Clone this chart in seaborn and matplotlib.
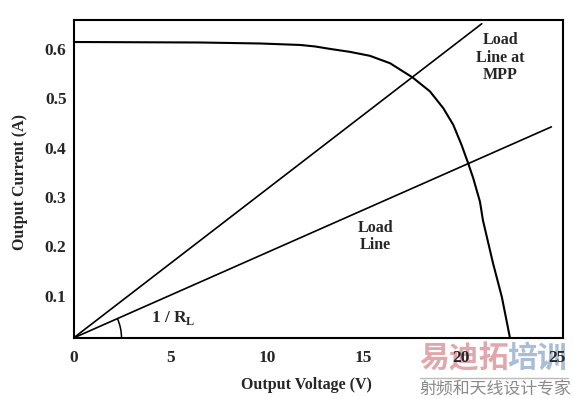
import numpy as np
import pandas as pd
import matplotlib
matplotlib.use("Agg")
import matplotlib.pyplot as plt
import matplotlib.transforms as mtransforms
from matplotlib.patches import Arc
import seaborn as sns

# I-V curve of the panel
voltage = [0.0, 6.54, 9.64, 11.71, 12.48, 13.26, 14.29, 15.32, 16.36, 17.53,
           18.42, 19.11, 19.63, 20.06, 20.40, 20.66, 21.01, 21.16, 21.68,
           22.14, 22.56]
current = [0.600, 0.599, 0.597, 0.594, 0.591, 0.586, 0.580, 0.572, 0.557, 0.528,
           0.500, 0.466, 0.432, 0.391, 0.354, 0.324, 0.276, 0.239, 0.152,
           0.083, 0.0]

# load lines (start at origin)
mpp_line_v = [0.0, 21.1]
mpp_line_i = [0.0, 0.637]
load_line_v = [0.0, 24.7]
load_line_i = [0.0, 0.428]

x_ticks = [0, 5, 10, 15, 20, 25]
y_ticks = [0.1, 0.2, 0.3, 0.4, 0.5, 0.6]

sns.set_theme(style="white")
plt.rcParams['font.family'] = ['Liberation Serif', 'DejaVu Serif']

fig = plt.figure(figsize=(5.73, 3.99), dpi=100)
ax = fig.add_axes([73.5/573, 1 - 338/399, (563 - 73.5)/573, (338 - 20)/399])

df_curve = pd.DataFrame({"V": voltage, "I": current})
sns.lineplot(data=df_curve, x="V", y="I", ax=ax, color="black", lw=1.5, sort=False,
             solid_joinstyle="round")
sns.lineplot(x=mpp_line_v, y=mpp_line_i, ax=ax, color="black", lw=1.2)
sns.lineplot(x=load_line_v, y=load_line_i, ax=ax, color="black", lw=1.2)

xmax = 25.3
ymax = 0.6446
ax.set_xlim(0, xmax)
ax.set_ylim(0, ymax)

# angle arc for 1/R_L
px_per_v = (563 - 73.5) / xmax
px_per_a = (338 - 20) / ymax
r_px = 48
w = 2 * r_px / px_per_v
h = 2 * r_px / px_per_a
theta2 = np.degrees(np.arctan2(load_line_i[1], load_line_v[1]))
ax.add_patch(Arc((0, 0), w, h, theta1=0, theta2=theta2, color="black", lw=1.1))

ax.text(4.0, 0.022, r"1 / R$_{\mathregular{L}}$", fontsize=12.5, fontweight="bold",
        ha="left", va="bottom")
ax.text(22.05, 0.568, "Load\nLine at\nMPP", fontsize=11.5, fontweight="bold",
        ha="center", va="center", linespacing=1.12)
ax.text(15.6, 0.206, "Load\nLine", fontsize=11.5, fontweight="bold",
        ha="center", va="center", linespacing=1.12)

ax.set_xticks(x_ticks)
ax.set_xticklabels([str(t) for t in x_ticks], fontsize=12.5, fontweight="bold")
ax.set_yticks(y_ticks)
ax.set_yticklabels([f"{t:.1f}" for t in y_ticks], fontsize=12.5, fontweight="bold")
ax.tick_params(axis="x", length=0, pad=9)
ax.tick_params(axis="y", length=0, pad=5)
off = mtransforms.ScaledTranslation(0, -7 / 100, fig.dpi_scale_trans)
for lab in ax.get_yticklabels():
    lab.set_transform(lab.get_transform() + off)

ax.set_xlabel("Output Voltage (V)", fontsize=11.5, fontweight="bold")
ax.set_ylabel("Output Current (A)", fontsize=11.5, fontweight="bold")
ax.xaxis.set_label_coords((306 - 73.5) / 489.5, -(385 - 338) / 318, transform=ax.transAxes)
ax.xaxis.label.set_va("center")
ax.yaxis.set_label_coords(-(73.5 - 20) / 489.5, (338 - 182) / 318, transform=ax.transAxes)
ax.yaxis.label.set_va("center")

for s in ax.spines.values():
    s.set_color("black")
    s.set_linewidth(1.5)

# watermark (drawn beneath the axes texts)
cjk = ['Noto Sans CJK SC', 'DejaVu Sans']
fig.text(419/573, 1 - 358/399, "易迪拓", family=cjk, fontsize=21.5, fontweight="bold",
         color="#e2a6ad", ha="left", va="center", zorder=-5)
fig.text(507/573, 1 - 358/399, "培训", family=cjk, fontsize=21.5, fontweight="bold",
         color="#a9bcd8", ha="left", va="center", zorder=-5)
fig.add_artist(plt.Line2D([420/573, 568/573], [1 - 378/399, 1 - 378/399],
                          color="#bbbbbb", lw=1, zorder=-5))
fig.text(419/573, 1 - 390/399, "射频和天线设计专家", family=cjk, fontsize=12.2,
         color="#8a8a8a", ha="left", va="center", zorder=-5)
ax.set_zorder(1)
ax.patch.set_alpha(0)

fig.savefig("out.png", dpi=100)
